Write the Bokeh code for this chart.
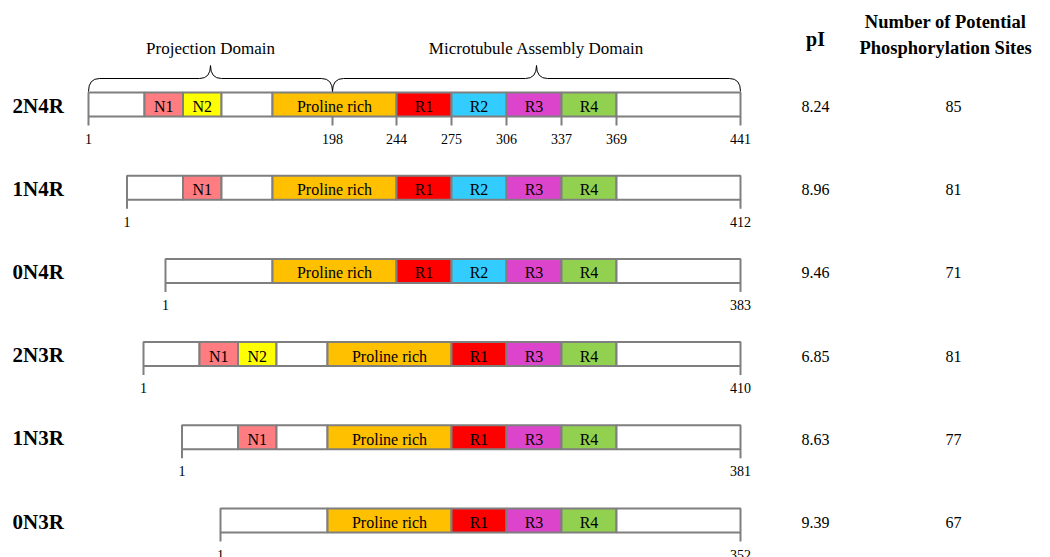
from bokeh.plotting import figure
from bokeh.models import ColumnDataSource, Range1d
from bokeh.core.properties import value
from bokeh.embed import file_html
from bokeh.resources import INLINE

# ---------------- data ----------------
isoforms = ["2N4R", "1N4R", "0N4R", "2N3R", "1N3R", "0N3R"]
pI_values = ["8.24", "8.96", "9.46", "6.85", "8.63", "9.39"]
phospho_sites = ["85", "81", "71", "81", "77", "67"]
lengths = [441, 412, 383, 410, 381, 352]

# domain composition of each isoform, N- to C-terminus
compositions = [
    ["lead", "N1", "N2", "gap", "Proline rich", "R1", "R2", "R3", "R4", "tail"],
    ["lead", "N1", "gap", "Proline rich", "R1", "R2", "R3", "R4", "tail"],
    ["Nterm", "Proline rich", "R1", "R2", "R3", "R4", "tail"],
    ["lead", "N1", "N2", "gap", "Proline rich", "R1", "R3", "R4", "tail"],
    ["lead", "N1", "gap", "Proline rich", "R1", "R3", "R4", "tail"],
    ["Nterm", "Proline rich", "R1", "R3", "R4", "tail"],
]

# schematic (not-to-scale) widths of each domain
schematic_width = {
    "lead": 56, "N1": 38.5, "N2": 38.5, "gap": 51, "Nterm": 107,
    "Proline rich": 124, "R1": 55, "R2": 55, "R3": 55, "R4": 55, "tail": 124,
}
domain_colors = {
    "lead": "#FFFFFF", "gap": "#FFFFFF", "Nterm": "#FFFFFF", "tail": "#FFFFFF",
    "N1": "#FF7C80", "N2": "#FFFF00", "Proline rich": "#FFC000",
    "R1": "#FF0000", "R2": "#33CCFF", "R3": "#DD44CC", "R4": "#92D050",
}
labelled = ["N1", "N2", "Proline rich", "R1", "R2", "R3", "R4"]

# residue ticks of the full-length isoform
full_ticks = ["1", "198", "244", "275", "306", "337", "369", "441"]
split_in_proline = 60  # schematic offset of residue 198 within Proline rich

domain_names = ["Projection Domain", "Microtubule Assembly Domain"]
header_lines = ["Number of Potential", "Phosphorylation Sites"]

# ---------------- layout ----------------
X_END = 740
ROW_Y0 = 104
ROW_STEP = 83.2
BAR_H = 24
GREY = "#7F7F7F"
FONT = value("Liberation Serif")
W, H = 1034, 557

p = figure(width=W, height=H, x_range=Range1d(0, W), y_range=Range1d(H, 0),
           output_backend="svg", toolbar_location=None, min_border=0)
p.axis.visible = False
p.grid.visible = False
p.outline_line_color = None

bars = dict(left=[], right=[], top=[], bottom=[], color=[])
seg_txt = dict(x=[], y=[], text=[])
ticks = dict(x0=[], y0=[], x1=[], y1=[])
tick_txt = dict(x=[], y=[], text=[])
starts = []

for i, comp in enumerate(compositions):
    yc = ROW_Y0 + i * ROW_STEP
    total = sum(schematic_width[d] for d in comp)
    x = X_END - total
    starts.append(x)
    bounds = [x]
    for d in comp:
        w = schematic_width[d]
        bars["left"].append(x)
        bars["right"].append(x + w)
        bars["top"].append(yc - BAR_H / 2)
        bars["bottom"].append(yc + BAR_H / 2)
        bars["color"].append(domain_colors[d])
        if d in labelled:
            seg_txt["x"].append(x + w / 2)
            seg_txt["y"].append(yc + 2)
            seg_txt["text"].append(d)
        x += w
        bounds.append(x)
    if i == 0:
        pro = bounds[comp.index("Proline rich")]
        r1 = comp.index("R1")
        tick_x = [bounds[0], pro + split_in_proline, bounds[r1], bounds[r1 + 1],
                  bounds[r1 + 2], bounds[r1 + 3], bounds[r1 + 4], bounds[-1]]
        tick_l = full_ticks
        split_x = pro + split_in_proline
    else:
        tick_x = [bounds[0], bounds[-1]]
        tick_l = ["1", str(lengths[i])]
    for tx, tl in zip(tick_x, tick_l):
        ticks["x0"].append(tx)
        ticks["x1"].append(tx)
        ticks["y0"].append(yc + BAR_H / 2)
        ticks["y1"].append(yc + BAR_H / 2 + 9)
        tick_txt["x"].append(tx)
        tick_txt["y"].append(yc + 34)
        tick_txt["text"].append(tl)

p.quad(left="left", right="right", top="top", bottom="bottom", fill_color="color",
       line_color=GREY, line_width=2, source=ColumnDataSource(bars))
p.segment(x0="x0", y0="y0", x1="x1", y1="y1", line_color=GREY, line_width=2,
          source=ColumnDataSource(ticks))
p.text(x="x", y="y", text="text", source=ColumnDataSource(seg_txt), text_font=FONT,
       text_font_size="16px", text_align="center", text_baseline="middle",
       text_color="black")
p.text(x="x", y="y", text="text", source=ColumnDataSource(tick_txt), text_font=FONT,
       text_font_size="14px", text_align="center", text_baseline="middle",
       text_color="black")

# isoform names
row_y = [ROW_Y0 + i * ROW_STEP for i in range(len(isoforms))]
p.text(x=[12] * len(isoforms), y=[y + 1 for y in row_y], text=isoforms, text_font=FONT,
       text_font_size="21px", text_font_style="bold", text_align="left",
       text_baseline="middle", text_color="black")
# pI and phosphorylation columns
p.text(x=[815] * len(isoforms), y=[y + 2 for y in row_y], text=pI_values, text_font=FONT,
       text_font_size="16px", text_align="center", text_baseline="middle")
p.text(x=[953] * len(isoforms), y=[y + 2 for y in row_y], text=phospho_sites, text_font=FONT,
       text_font_size="16px", text_align="center", text_baseline="middle")
p.text(x=[815], y=[38], text=["pI"], text_font=FONT, text_font_size="20px",
       text_font_style="bold", text_align="center", text_baseline="middle")
p.text(x=[945, 945], y=[21, 47], text=header_lines,
       text_font=FONT, text_font_size="18.5px", text_font_style="bold",
       text_align="center", text_baseline="middle")

# domain braces
brace_spans = [(starts[0], split_x), (split_x, X_END)]
y_end, y_line, y_peak, r = 91, 78, 65, 11
qx0, qy0, qx1, qy1, qcx, qcy = [], [], [], [], [], []
sx0, sy0, sx1, sy1 = [], [], [], []
lab_x = []
for a, b in brace_spans:
    m = (a + b) / 2
    lab_x.append(m)
    # end curls
    qx0 += [a, b]; qy0 += [y_end, y_end]
    qx1 += [a + r, b - r]; qy1 += [y_line, y_line]
    qcx += [a, b]; qcy += [y_line, y_line]
    # middle point
    qx0 += [m - r, m + r]; qy0 += [y_line, y_line]
    qx1 += [m, m]; qy1 += [y_peak, y_peak]
    qcx += [m, m]; qcy += [y_line, y_line]
    sx0 += [a + r, m + r]; sx1 += [m - r, b - r]
    sy0 += [y_line, y_line]; sy1 += [y_line, y_line]
p.quadratic(x0=qx0, y0=qy0, x1=qx1, y1=qy1, cx=qcx, cy=qcy, line_color="black", line_width=1)
p.segment(x0=sx0, y0=sy0, x1=sx1, y1=sy1, line_color="black", line_width=1)
p.text(x=lab_x, y=[48, 48], text=domain_names, text_font=FONT, text_font_size="17px",
       text_align="center", text_baseline="middle")

open("out.html", "w").write(file_html(p, INLINE))
